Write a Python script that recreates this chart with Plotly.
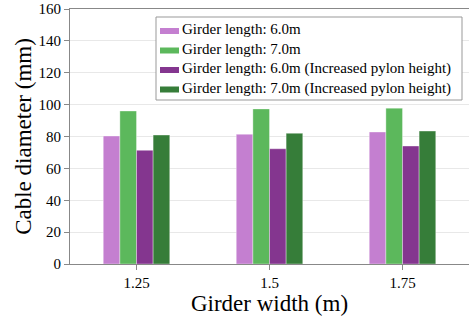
import plotly.graph_objects as go

categories = ["1.25", "1.5", "1.75"]
series_names = [
    "Girder length: 6.0m",
    "Girder length: 7.0m",
    "Girder length: 6.0m (Increased pylon height)",
    "Girder length: 7.0m (Increased pylon height)",
]
len6 = [80.3, 81.4, 82.8]
len7 = [96.0, 97.3, 97.8]
len6_pylon = [71.3, 72.3, 74.0]
len7_pylon = [80.9, 82.0, 83.4]
colors = ["#c47fd0", "#5cb85c", "#84368f", "#367d39"]

W, H = 469, 321
ML, MR, MT, MB = 70, 0, 9, 57
PW, PH = W - ML - MR, H - MT - MB

def px_x(p):  # pixel -> paper x
    return (p - ML) / PW

def px_y(p):  # pixel -> paper y
    return (H - MB - p) / PH

fig = go.Figure()
for name, vals, c in zip(series_names, [len6, len7, len6_pylon, len7_pylon], colors):
    fig.add_trace(go.Bar(x=categories, y=vals, name=name, marker_color=c,
                         marker_line_color="rgba(255,255,255,0.35)", marker_line_width=1,
                         showlegend=False))

font = "Liberation Serif, Times New Roman, serif"

# compact legend: box, colour swatches and text
fig.add_shape(type="rect", xref="paper", yref="paper",
              x0=px_x(156), x1=px_x(462), y0=px_y(100), y1=px_y(17),
              fillcolor="white", line=dict(color="#999999", width=1), layer="above")
row0, step = 31, 19.5
for i, c in enumerate(colors):
    yc = row0 + i * step
    fig.add_shape(type="rect", xref="paper", yref="paper",
                  x0=px_x(160), x1=px_x(179), y0=px_y(yc + 3), y1=px_y(yc - 3),
                  fillcolor=c, line=dict(width=0), layer="above")
fig.add_annotation(
    text="<br>".join(series_names), xref="paper", yref="paper",
    x=px_x(181), y=px_y(row0 - 11), xanchor="left", yanchor="top", align="left",
    showarrow=False, font=dict(family=font, size=15, color="black"), borderpad=0,
)

fig.update_layout(
    width=W, height=H,
    margin=dict(l=ML, r=MR, t=MT, b=MB, autoexpand=False),
    plot_bgcolor="white", paper_bgcolor="white",
    barmode="group", bargap=0.5, bargroupgap=0,
    font=dict(family=font, size=15, color="black"),
    showlegend=False,
)
fig.update_xaxes(
    type="category", automargin=False,
    title=dict(text="Girder width (m)", font=dict(family=font, size=23), standoff=0),
    showline=True, linecolor="#888888", linewidth=1, mirror=True,
    ticks="outside", ticklen=5, tickcolor="#888888",
    tickfont=dict(family=font, size=15),
    showgrid=False,
)
fig.update_yaxes(
    automargin=False,
    title=dict(text="Cable diameter (mm)", font=dict(family=font, size=23), standoff=0),
    range=[0, 160], dtick=20,
    showline=True, linecolor="#888888", linewidth=1,
    ticks="outside", ticklen=5, tickcolor="#888888",
    tickfont=dict(family=font, size=15),
    showgrid=True, gridcolor="#e8e8e8", gridwidth=1,
    zeroline=False,
)
fig.write_html("out.html", config={"displayModeBar": False},
               post_script="document.body.style.margin='0';")
